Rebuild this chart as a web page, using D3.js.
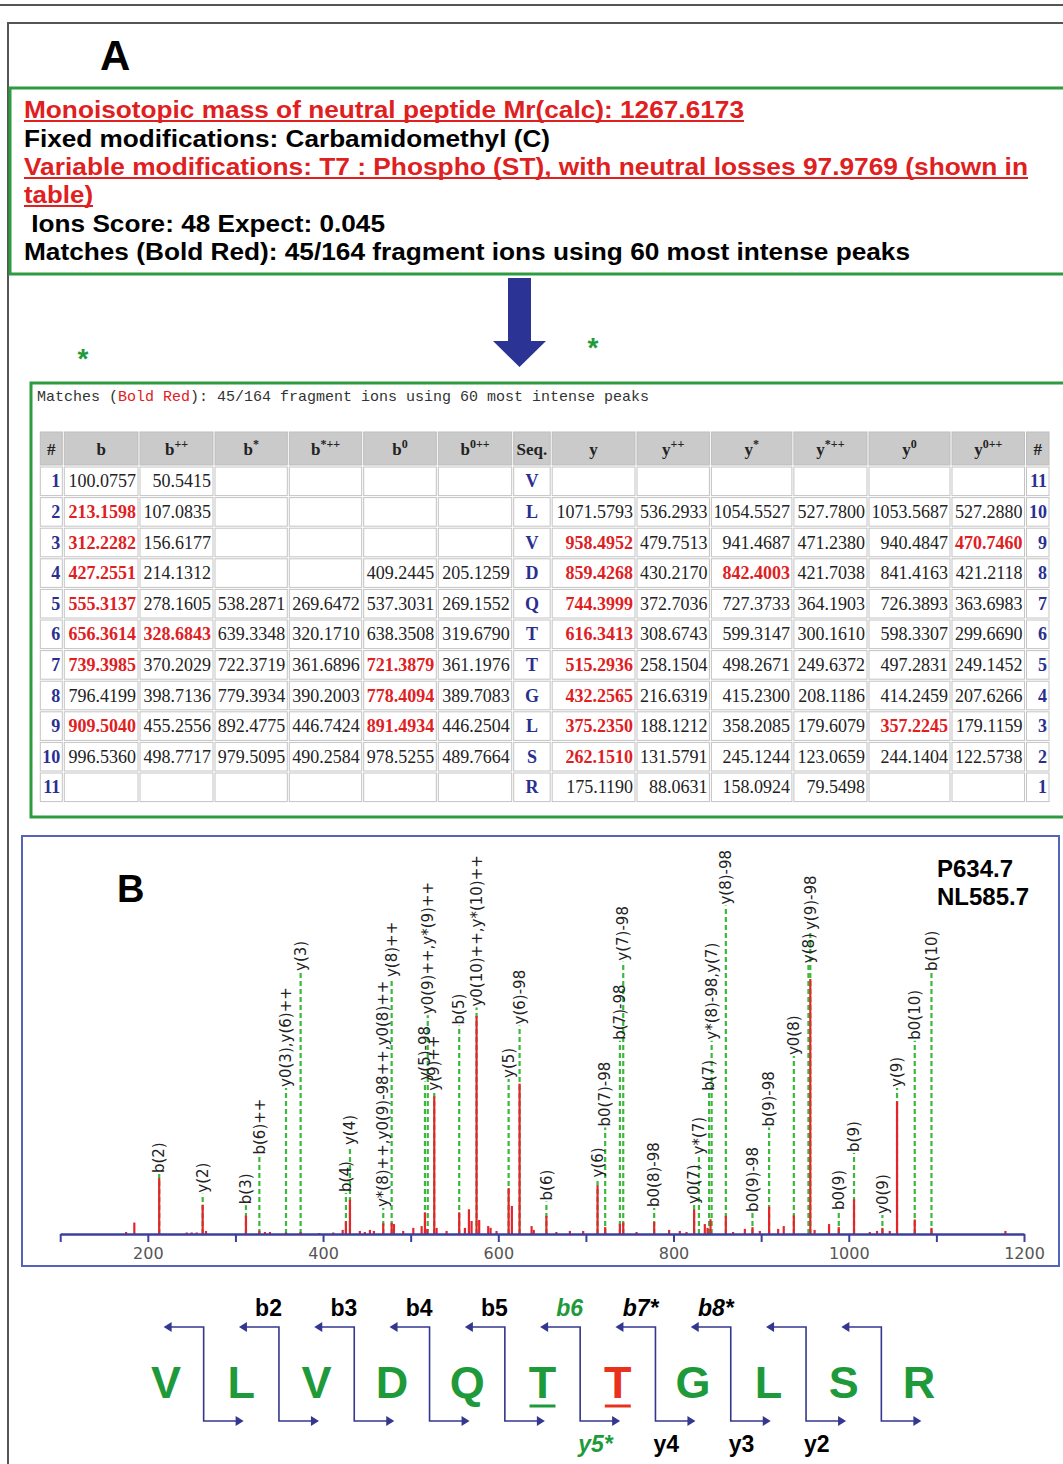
<!DOCTYPE html>
<html>
<head>
<meta charset="utf-8">
<title>VLVDQTTGLSR - Mascot MS/MS</title>
<script src="https://d3js.org/d3.v7.min.js"></script>
<style>
  body { margin: 0; background: #fff; }
  svg text { white-space: pre; }
</style>
</head>
<body>
<svg id="fig" width="1063" height="1464" font-family="Liberation Sans, Arial, sans-serif"></svg>
<script>
// ---------- panel A: summary ----------
const summaryLines = [
  "Monoisotopic mass of neutral peptide Mr(calc): 1267.6173",
  "Fixed modifications: Carbamidomethyl (C)",
  "Variable modifications: T7 : Phospho (ST), with neutral losses 97.9769 (shown in",
  "table)",
  " Ions Score: 48 Expect: 0.045",
  "Matches (Bold Red): 45/164 fragment ions using 60 most intense peaks"
];
const summaryRed = [true, false, true, true, false, false];
const captionParts = ["Matches (", "Bold Red", "): 45/164 fragment ions using 60 most intense peaks"];

// ---------- fragment table ----------
const tableCols = [["#",""],["b",""],["b","++"],["b","*"],["b","*++"],["b","0"],["b","0++"],["Seq.",""],
                   ["y",""],["y","++"],["y","*"],["y","*++"],["y","0"],["y","0++"],["#",""]];
const sequence = ["V","L","V","D","Q","T","T","G","L","S","R"];
const colB     = ["100.0757","213.1598","312.2282","427.2551","555.3137","656.3614","739.3985","796.4199","909.5040","996.5360",""];
const colB2    = ["50.5415","107.0835","156.6177","214.1312","278.1605","328.6843","370.2029","398.7136","455.2556","498.7717",""];
const colBs    = ["","","","","538.2871","639.3348","722.3719","779.3934","892.4775","979.5095",""];
const colBs2   = ["","","","","269.6472","320.1710","361.6896","390.2003","446.7424","490.2584",""];
const colB0    = ["","","","409.2445","537.3031","638.3508","721.3879","778.4094","891.4934","978.5255",""];
const colB02   = ["","","","205.1259","269.1552","319.6790","361.1976","389.7083","446.2504","489.7664",""];
const colY     = ["","1071.5793","958.4952","859.4268","744.3999","616.3413","515.2936","432.2565","375.2350","262.1510","175.1190"];
const colY2    = ["","536.2933","479.7513","430.2170","372.7036","308.6743","258.1504","216.6319","188.1212","131.5791","88.0631"];
const colYs    = ["","1054.5527","941.4687","842.4003","727.3733","599.3147","498.2671","415.2300","358.2085","245.1244","158.0924"];
const colYs2   = ["","527.7800","471.2380","421.7038","364.1903","300.1610","249.6372","208.1186","179.6079","123.0659","79.5498"];
const colY0    = ["","1053.5687","940.4847","841.4163","726.3893","598.3307","497.2831","414.2459","357.2245","244.1404",""];
const colY02   = ["","527.2880","470.7460","421.2118","363.6983","299.6690","249.1452","207.6266","179.1159","122.5738",""];
const matched  = ["213.1598","312.2282","427.2551","555.3137","656.3614","739.3985","909.5040","328.6843",
                  "721.3879","778.4094","891.4934","958.4952","859.4268","744.3999","616.3413","515.2936",
                  "432.2565","375.2350","262.1510","842.4003","357.2245","470.7460"];

// ---------- panel B: spectrum (m/z, relative intensity %) ----------
const peakMz  = [175.2,184.6,213.0,244.4,250,255.8,262.6,266.4,312,327.3,333.7,339.4,357.7,374.4,395.7,411.7,422.4,426.1,430.7,
                 442,447.7,453.5,458,468.7,478.3,480.9,491.5,503,512.5,516.3,518.9,526.9,529.6,541,555.4,561.9,566.5,569.5,
                 575.2,578.2,588.5,591.2,598,611.8,615.5,624.3,638,640.5,654.9,666.3,681.7,696.9,713.3,722,738.8,742.6,757.8,
                 777.9,795,807.2,814.8,823.5,835.7,838.8,842.2,859.7,868,881.4,890.1,898.5,909.1,919.4,925.8,937.3,956.1,961,
                 977.5,988.6,1006,1024,1032.3,1038.4,1046.8,1055.1,1075.3,1094.4,1178.8];
const peakInt = [0.8,4.5,22,0.6,0.6,0.6,11.5,1.2,7.2,1.3,0.8,0.8,0.6,0.8,0.4,0.6,1.6,5,13.5,
                 1.2,0.8,1.6,1.2,4.2,4.4,3.9,1.2,2.4,3.1,8.5,2,54,2.4,1.2,8.5,2.4,9.7,5.1,
                 85.5,5.5,3.1,2.4,1.2,18,11,59,3.1,1.6,7.1,0.8,1.2,1.2,19,2.7,3.9,4.5,0.8,
                 4.7,1.6,1.2,0.8,9.6,3.9,2.4,5.8,7.1,0.8,2,2.7,1.2,10.7,2,3.1,7.3,100,1.6,
                 3.9,2.7,13.6,0.8,1.2,2.4,1.2,52,5.7,2.4,1.2];
const annMz    = [213.0,262.6,312,327.3,357.7,374.4,426.1,430.7,468.7,478.3,516.3,519.5,526.9,555.4,575.2,611.8,624.3,
                  654.9,713.3,722,738.8,742.6,777.9,823.5,829,840.6,843.5,859.7,890.1,909.1,937.3,954,956.1,988.6,1006,
                  1038.4,1055.1,1075.3,1094.4];
const annLabel = ["b(2)","y(2)","b(3)","b(6)++","y0(3),y(6)++","y(3)","b(4)","y(4)","y*(8)++,y0(9)-98++,y0(8)++","y(8)++",
                  "y(5)-98","y0(9)++,y*(9)++","y(9)++","b(5)","y0(10)++,y*(10)++","y(5)","y(6)-98",
                  "b(6)","y(6)","b0(7)-98","b(7)-98","y(7)-98","b0(8)-98","y0(7)","y*(7)","b(7)","y*(8)-98,y(7)","y(8)-98",
                  "b0(9)-98","b(9)-98","y0(8)","y(8)","y(9)-98","b0(9)","b(9)","y0(9)","y(9)","b0(10)","b(10)"];
const annLevel = [22.7,15,10.5,30,56.5,102,15.3,33.7,9.4,99.6,59,85,55,81,88,60,81,
                  12,21,41,75,106,9.4,10.6,30,55,75,128,7.5,41,69,105,118,8.2,31,6.7,56.5,75,102];
const precursorText = ["P634.7", "NL585.7"];

// ---------- fragmentation map ----------
const bMapLabels = ["", "b2", "b3", "b4", "b5", "b6", "b7*", "b8*", "", ""];   // per cleavage 1..10
const yMapLabels = ["", "", "", "", "", "y5*", "y4", "y3", "y2", ""];
const underlinedSites = [6, 7];   // T6 (candidate), T7 (phospho site)

// ====================================================================
const svg = d3.select("#fig");
svg.append("rect").attr("width", 1063).attr("height", 1464).attr("fill", "#fff");

const RED = "#e0201f", GREEN = "#2d9b3f", NAVY = "#2a2f8f";
const SERIF = "Liberation Serif, Times New Roman, serif";
const VERD = "DejaVu Sans, Verdana, sans-serif";

// frame
svg.append("line").attr("x1", 0).attr("x2", 1063).attr("y1", 5).attr("y2", 5)
  .attr("stroke", "#555").attr("stroke-width", 2);
svg.append("path").attr("d", "M8,1464V23H1063").attr("fill", "none")
  .attr("stroke", "#555").attr("stroke-width", 2);

svg.append("text").attr("x", 100).attr("y", 70).attr("font-size", 42).attr("font-weight", "bold").text("A");

// summary box
svg.append("rect").attr("x", 10).attr("y", 88).attr("width", 1070).attr("height", 186)
  .attr("fill", "none").attr("stroke", GREEN).attr("stroke-width", 3);
const lineY = [118, 147, 175, 203, 232, 260];
const lineW = [720, 526, 1004, 69, 361, 886];
summaryLines.forEach((s, i) => {
  svg.append("text").attr("x", 24).attr("y", lineY[i])
    .attr("font-size", 23).attr("font-weight", "bold")
    .attr("fill", summaryRed[i] ? RED : "#000")
    .attr("textLength", lineW[i]).attr("lengthAdjust", "spacingAndGlyphs")
    .text(s);
  if (summaryRed[i]) {
    svg.append("line").attr("x1", 24).attr("x2", 24 + lineW[i])
      .attr("y1", lineY[i] + 3).attr("y2", lineY[i] + 3)
      .attr("stroke", RED).attr("stroke-width", 2);
  }
});

// down arrow
svg.append("path").attr("d", "M508,278H531V341H546L519.5,367L493,341H508Z").attr("fill", "#2b3494");

// asterisks
[[83, 368], [593, 357]].forEach(p => {
  svg.append("text").attr("x", p[0]).attr("y", p[1]).attr("text-anchor", "middle")
    .attr("font-size", 28).attr("font-weight", "bold").attr("fill", "#1f9a3a").text("*");
});

// table box
svg.append("rect").attr("x", 31).attr("y", 383).attr("width", 1050).attr("height", 434)
  .attr("fill", "none").attr("stroke", GREEN).attr("stroke-width", 3);
const cap = svg.append("text").attr("x", 37).attr("y", 401)
  .attr("font-family", "Liberation Mono, Courier New, monospace").attr("font-size", 15).attr("fill", "#333");
captionParts.forEach((p, i) => cap.append("tspan").attr("fill", i === 1 ? RED : "#333").text(p));

// table grid
const colW = [24, 75.7, 75, 74.3, 74.4, 74.6, 75.4, 38.5, 84.8, 74.4, 82.5, 75.1, 83, 74.5, 24.5];
const colX = [39.3];
colW.forEach(w => colX.push(colX[colX.length - 1] + w));
const headTop = 431, headH = 35;
const rowY = d3.scaleBand().domain(d3.range(sequence.length)).range([headTop + headH, headTop + headH + 30.6 * sequence.length]);

const valueCols = [colB, colB2, colBs, colBs2, colB0, colB02, null, colY, colY2, colYs, colYs2, colY0, colY02];
const tbl = svg.append("g").attr("font-family", SERIF);
tableCols.forEach((c, j) => {
  tbl.append("rect").attr("x", colX[j] + 1).attr("y", headTop + 1)
    .attr("width", colW[j] - 2).attr("height", headH - 2)
    .attr("fill", "#cacaca").attr("stroke", "#bdbdbd");
  const t = tbl.append("text").attr("x", colX[j] + colW[j] / 2).attr("y", headTop + headH / 2 + 6)
    .attr("text-anchor", "middle")
    .attr("font-size", 17).attr("font-weight", "bold").attr("fill", "#222");
  t.append("tspan").text(c[0]);
  if (c[1]) t.append("tspan").attr("baseline-shift", "super").attr("font-size", 12).text(c[1]);
});

sequence.forEach((aa, i) => {
  const y0 = rowY(i), h = rowY.bandwidth(), yb = y0 + h / 2 + 6;
  colW.forEach((w, j) => {
    tbl.append("rect").attr("x", colX[j] + 1).attr("y", y0 + 1).attr("width", w - 2).attr("height", h - 2)
      .attr("fill", "#fff").attr("stroke", "#c4c4c4");
  });
  const cell = (j, txt, anchor, opts) => {
    const xx = anchor === "end" ? colX[j + 1] - 3 : anchor === "middle" ? colX[j] + colW[j] / 2 : colX[j] + 3;
    tbl.append("text").attr("x", xx).attr("y", yb).attr("text-anchor", anchor)
      .attr("font-size", 18)
      .attr("font-weight", opts.bold ? "bold" : "normal").attr("fill", opts.fill).text(txt);
  };
  cell(0, String(i + 1), "end", { bold: true, fill: NAVY });
  cell(7, aa, "middle", { bold: true, fill: NAVY });
  cell(14, String(sequence.length - i), "end", { bold: true, fill: NAVY });
  valueCols.forEach((col, k) => {
    if (!col || !col[i]) return;
    const hit = matched.includes(col[i]);
    cell(k + 1, col[i], "end", { bold: hit, fill: hit ? RED : "#222" });
  });
});

// ---------- panel B ----------
svg.append("rect").attr("x", 22).attr("y", 836).attr("width", 1037).attr("height", 430)
  .attr("fill", "none").attr("stroke", "#5563b8").attr("stroke-width", 2);
svg.append("text").attr("x", 117).attr("y", 902).attr("font-size", 38).attr("font-weight", "bold").text("B");
precursorText.forEach((s, i) => {
  svg.append("text").attr("x", 937).attr("y", 877 + i * 28).attr("font-size", 24)
    .attr("font-weight", "bold").text(s);
});

const x = d3.scaleLinear().domain([100, 1200]).range([60.2, 1024]);
const y = d3.scaleLinear().domain([0, 100]).range([1234, 979]);

// annotation dashed lines + labels
const ann = annMz.map((m, i) => ({ mz: m, label: annLabel[i], level: annLevel[i] }));
svg.append("g").selectAll("line").data(ann).join("line")
  .attr("x1", d => x(d.mz)).attr("x2", d => x(d.mz))
  .attr("y1", y(0)).attr("y2", d => y(d.level) - 2)
  .attr("stroke", "#3cb83c").attr("stroke-width", 2.2).attr("stroke-dasharray", "5,3");
svg.append("g").attr("font-family", VERD).selectAll("text").data(ann).join("text")
  .attr("transform", d => `translate(${x(d.mz)},${y(d.level) - 3}) rotate(-90)`)
  .attr("dy", "0.35em").attr("font-size", 15)
  .attr("fill", "#222").text(d => d.label);

// peaks
const peaks = peakMz.map((m, i) => ({ mz: m, v: peakInt[i] }));
svg.append("g").selectAll("line").data(peaks).join("line")
  .attr("x1", d => x(d.mz)).attr("x2", d => x(d.mz))
  .attr("y1", y(0)).attr("y2", d => y(d.v))
  .attr("stroke", "#e4262c").attr("stroke-width", 2.2);

// axis
const axis = d3.axisBottom(x).tickValues(d3.range(100, 1201, 100))
  .tickFormat(d => d % 200 === 0 ? d : "").tickSizeInner(8).tickSizeOuter(0).tickPadding(6);
const gAx = svg.append("g").attr("transform", `translate(0,${y(0)})`).call(axis);
gAx.select(".domain").attr("stroke", "#3c3f9e").attr("stroke-width", 2.5);
gAx.selectAll(".tick line").attr("stroke", "#3c3f9e").attr("stroke-width", 2);
gAx.attr("font-family", VERD).selectAll(".tick text").attr("font-size", 16).attr("fill", "#555");

// ---------- fragmentation map ----------
const sx = d3.scalePoint().domain(d3.range(sequence.length)).range([166, 919]);
const topY = 1327, botY = 1421, arm = 40;
const map = svg.append("g");
sequence.forEach((aa, i) => {
  const site = i + 1;
  const col = site === 7 ? "#e8321e" : "#1f9a3a";
  map.append("text").attr("x", sx(i)).attr("y", 1398).attr("text-anchor", "middle")
    .attr("font-size", 45).attr("font-weight", "bold").attr("fill", col).text(aa);
  if (underlinedSites.includes(site)) {
    map.append("line").attr("x1", sx(i) - 13).attr("x2", sx(i) + 13)
      .attr("y1", 1406).attr("y2", 1406).attr("stroke", col).attr("stroke-width", 3);
  }
});
d3.range(1, sequence.length).forEach(k => {
  const xv = (sx(k - 1) + sx(k)) / 2;
  map.append("path").attr("d", `M${xv - arm + 6},${topY}H${xv}V${botY}H${xv + arm - 6}`)
    .attr("fill", "none").attr("stroke", "#33378f").attr("stroke-width", 1.6);
  map.append("path").attr("d", `M${xv - arm},${topY}l8,-5v10z`).attr("fill", "#33378f");
  map.append("path").attr("d", `M${xv + arm},${botY}l-8,-5v10z`).attr("fill", "#33378f");
  const bl = bMapLabels[k - 1], yl = yMapLabels[k - 1];
  if (bl) {
    map.append("text").attr("x", xv + 3).attr("y", 1316).attr("text-anchor", "end")
      .attr("font-size", 23).attr("font-weight", "bold")
      .attr("font-style", bl === "b6" || bl.includes("*") ? "italic" : "normal")
      .attr("fill", bl === "b6" ? "#1f9a3a" : "#000").text(bl);
  }
  if (yl) {
    map.append("text").attr("x", xv - 2).attr("y", 1452).attr("text-anchor", "start")
      .attr("font-size", 23).attr("font-weight", "bold")
      .attr("font-style", yl.includes("*") ? "italic" : "normal")
      .attr("fill", yl.includes("*") ? "#1f9a3a" : "#000").text(yl);
  }
});
</script>
</body>
</html>
